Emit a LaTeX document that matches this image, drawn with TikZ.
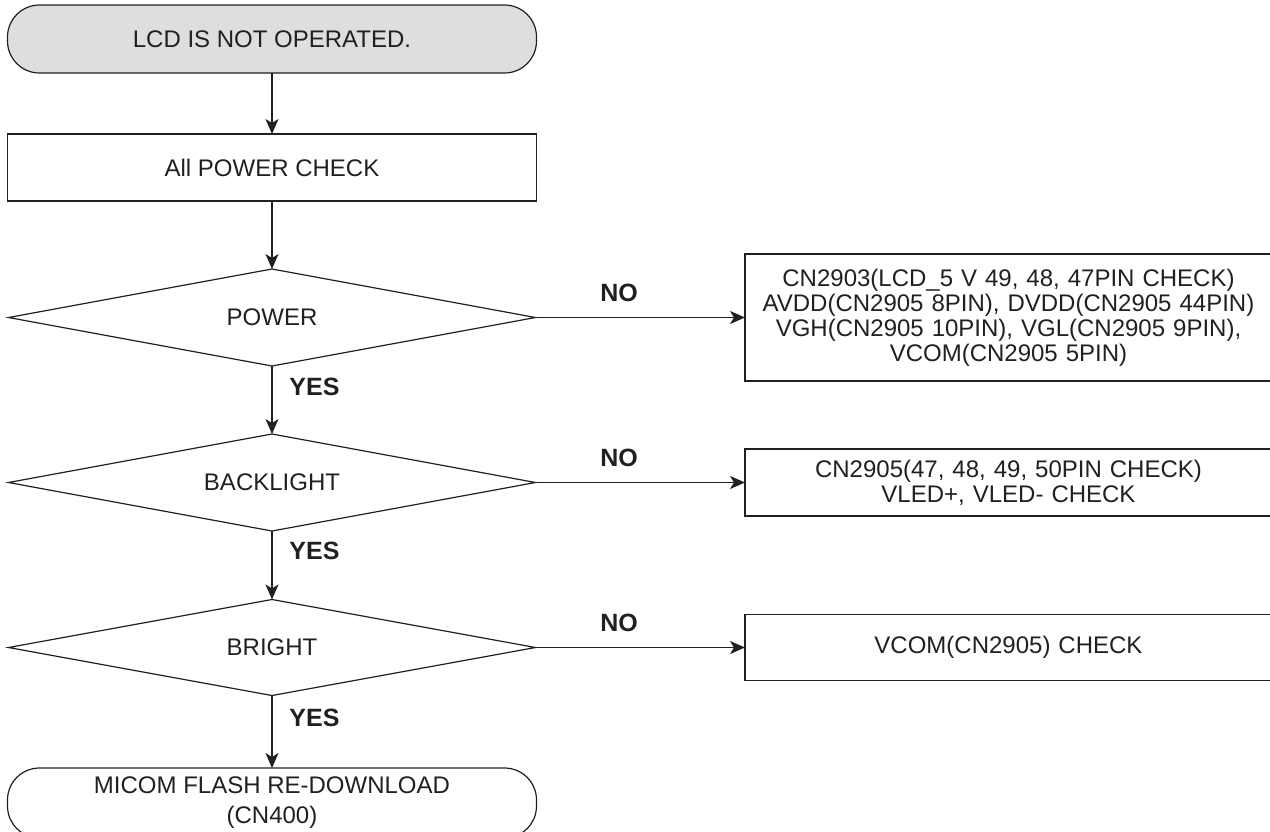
\documentclass[tikz,border=0pt]{standalone}
\usepackage{fontspec}
\setmainfont{Liberation Sans}
\usetikzlibrary{shapes.geometric,arrows.meta}
\definecolor{ink}{RGB}{35,31,32}
\definecolor{termgray}{RGB}{221,222,224}
\begin{document}
\begin{tikzpicture}[x=0.5pt,y=-0.5pt,
  every node/.style={text=ink},
  shp/.style={draw=ink, line width=0.6pt, inner sep=0pt, outer sep=0pt, font=\fontsize{12}{12.5}\selectfont},
  term/.style={shp, rectangle, rounded corners=16pt, minimum width=264.5pt, minimum height=34pt, align=center},
  procbox/.style={shp, rectangle, minimum width=264.5pt, align=center},
  decision/.style={shp, diamond, minimum width=263.5pt, minimum height=48.5pt, aspect=5},
  sidebox/.style={shp, rectangle, minimum width=263.5pt, text width=258pt, align=center},
  flow/.style={draw=ink, line width=0.8pt, -{Stealth[length=7.5pt,width=6.5pt,inset=2pt]}},
  lbl/.style={inner sep=0pt, font=\fontsize{12.5}{13}\selectfont\bfseries}
]
\useasboundingbox (0,0) rectangle (1270,831);

% main column
\node[term, fill=termgray] (t1) at (272,39) {LCD IS NOT OPERATED.};
\node[procbox, minimum height=33.5pt] (b1) at (272,167.5) {All POWER CHECK};
\node[decision] (d1) at (272,317.5) {POWER};
\node[decision] (d2) at (272,482.5) {BACKLIGHT};
\node[decision, minimum height=48pt] (d3) at (272,647.5) {BRIGHT};
\node[term, minimum height=35pt, font=\fontsize{12}{15}\selectfont] (t2) at (272,803) {MICOM FLASH RE-DOWNLOAD\\(CN400)};

% side boxes
\node[sidebox, minimum height=63.5pt] (r1) at (1008.5,317.5)
  {\baselineskip=12.5pt CN2903(LCD\_5 V 49, 48, 47PIN CHECK)\\AVDD(CN2905 8PIN), DVDD(CN2905 44PIN)\\VGH(CN2905 10PIN), VGL(CN2905 9PIN),\\VCOM(CN2905 5PIN)};
\node[sidebox, minimum height=33.5pt] (r2) at (1008.5,482.5)
  {\baselineskip=12.5pt CN2905(47, 48, 49, 50PIN CHECK)\\VLED+, VLED- CHECK};
\node[sidebox, minimum height=33pt] (r3) at (1008.5,647.5) {VCOM(CN2905) CHECK};

% connectors
\draw[flow] (t1) -- (b1);
\draw[flow] (b1) -- (d1);
\draw[flow] (d1) -- (d2);
\draw[flow] (d2) -- (d3);
\draw[flow] (d3) -- (t2);
\draw[flow] (d1.east) -- (r1.west);
\draw[flow] (d2.east) -- (r2.west);
\draw[flow] (d3.east) -- (r3.west);

% labels
\node[lbl, anchor=west] (y1) at (289,387) {YES};
\node[lbl, anchor=west] (y2) at (289,551) {YES};
\node[lbl, anchor=west] (y3) at (289,718) {YES};
\node[lbl] (n1) at (619,293) {NO};
\node[lbl] (n2) at (619,458) {NO};
\node[lbl] (n3) at (619,623) {NO};
\end{tikzpicture}
\end{document}
